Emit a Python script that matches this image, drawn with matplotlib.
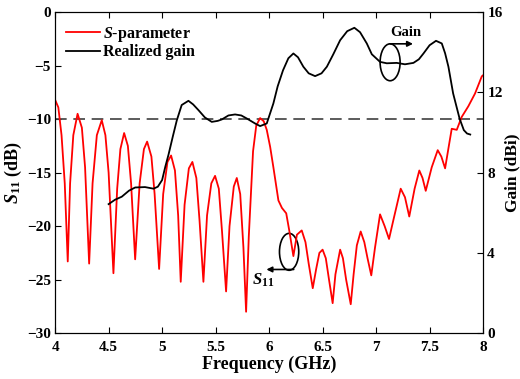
import numpy as np
import matplotlib
matplotlib.use("Agg")
import matplotlib.pyplot as plt
from matplotlib.patches import Ellipse

plt.rcParams["font.family"] = ["Liberation Serif", "DejaVu Serif"]
plt.rcParams["font.weight"] = "bold"
plt.rcParams["mathtext.fontset"] = "custom"
plt.rcParams["mathtext.rm"] = "Liberation Serif:bold"
plt.rcParams["mathtext.bf"] = "Liberation Serif:bold"
plt.rcParams["mathtext.it"] = "Liberation Serif:bold:italic"

# S11 (GHz, dB)
s11_freq = [4.00, 4.03, 4.06, 4.09, 4.118, 4.14, 4.17, 4.21, 4.25, 4.28, 4.318,
            4.35, 4.39, 4.436, 4.47, 4.50, 4.545, 4.58, 4.61, 4.645, 4.68, 4.71,
            4.748, 4.79, 4.83, 4.86, 4.90, 4.93, 4.972, 5.01, 5.05, 5.084, 5.12,
            5.15, 5.174, 5.21, 5.25, 5.283, 5.32, 5.35, 5.386, 5.42, 5.46, 5.495,
            5.53, 5.56, 5.598, 5.63, 5.67, 5.698, 5.73, 5.76, 5.785, 5.81, 5.85,
            5.88, 5.916, 5.95, 5.978, 6.01, 6.04, 6.087, 6.12, 6.16, 6.19, 6.227,
            6.26, 6.305, 6.34, 6.37, 6.408, 6.44, 6.47, 6.50, 6.53, 6.56, 6.594,
            6.62, 6.664, 6.69, 6.72, 6.763, 6.79, 6.82, 6.856, 6.89, 6.92, 6.955,
            6.99, 7.037, 7.08, 7.121, 7.16, 7.23, 7.27, 7.31, 7.36, 7.404, 7.434,
            7.464, 7.52, 7.576, 7.61, 7.645, 7.68, 7.707, 7.754, 7.80, 7.862,
            7.925, 7.988, 8.00]
s11_db = [-8.2, -8.9, -11.5, -16.0, -23.3, -16.0, -11.5, -9.5, -10.8, -14.5, -23.5,
          -16.0, -11.5, -10.1, -11.5, -15.0, -24.4, -16.5, -12.8, -11.3, -12.5, -16.0,
          -23.1, -16.0, -12.8, -12.1, -13.5, -17.0, -24.0, -17.0, -14.0, -13.4, -14.8,
          -19.0, -25.2, -18.0, -14.6, -14.0, -15.5, -19.5, -25.2, -19.0, -16.0, -15.3,
          -16.5, -20.5, -26.1, -20.0, -16.3, -15.5, -17.0, -22.0, -28.0, -21.0, -13.0,
          -10.6, -9.9, -10.2, -11.0, -12.6, -14.5, -17.6, -18.3, -18.8, -20.5, -22.8,
          -20.8, -20.4, -21.5, -23.5, -25.8, -24.0, -22.5, -22.2, -23.0, -25.0, -27.2,
          -24.5, -22.2, -23.0, -25.0, -27.3, -24.5, -21.8, -20.5, -21.5, -23.0, -24.6,
          -22.0, -18.9, -20.0, -21.2, -19.5, -16.5, -17.3, -19.1, -16.5, -14.8, -15.5,
          -16.7, -14.5, -12.9, -13.5, -14.6, -12.5, -10.9, -11.0, -9.8, -8.8,
          -7.6, -6.0, -5.9]

# realized gain (GHz, dBi)
gain_freq = [4.50, 4.56, 4.623, 4.69, 4.748, 4.84, 4.92, 4.96, 5.00, 5.03, 5.06,
             5.10, 5.137, 5.183, 5.246, 5.29, 5.339, 5.40, 5.464, 5.52, 5.558, 5.62,
             5.682, 5.74, 5.791, 5.869, 5.916, 5.978, 6.04, 6.08, 6.13, 6.18, 6.227,
             6.27, 6.32, 6.37, 6.43, 6.49, 6.54, 6.60, 6.664, 6.73, 6.797, 6.85,
             6.913, 6.96, 7.037, 7.10, 7.193, 7.27, 7.349, 7.40, 7.443, 7.50, 7.56,
             7.614, 7.645, 7.676, 7.72, 7.78, 7.82, 7.85, 7.88]
gain_dbi = [6.43, 6.65, 6.8, 7.1, 7.26, 7.28, 7.2, 7.3, 7.63, 8.3, 8.9,
            9.8, 10.6, 11.37, 11.58, 11.4, 11.12, 10.75, 10.53, 10.58, 10.65, 10.85,
            10.9, 10.85, 10.7, 10.45, 10.32, 10.45, 11.45, 12.3, 13.1, 13.7, 13.94,
            13.75, 13.28, 12.95, 12.81, 12.95, 13.28, 13.9, 14.6, 15.05, 15.22, 15.0,
            14.44, 13.9, 13.52, 13.45, 13.47, 13.4, 13.47, 13.65, 13.94, 14.35, 14.57,
            14.44, 13.95, 13.28, 11.95, 10.7, 10.12, 9.95, 9.9]

fig = plt.figure(figsize=(5.2, 3.79), dpi=100)
ax = fig.add_axes([0.106, 0.121, 0.823, 0.847])
ax2 = ax.twinx()

ax.axhline(-10, color="#404040", lw=1.2, dashes=(7, 4))
l1, = ax.plot(s11_freq, s11_db, color="red", lw=1.3)
l2, = ax2.plot(gain_freq, gain_dbi, color="black", lw=1.3)

ax.set_xlim(4, 8)
ax.set_ylim(-30, 0)
ax2.set_ylim(0, 16)
ax.set_xticks([4, 4.5, 5, 5.5, 6, 6.5, 7, 7.5, 8])
ax.set_xticklabels(["4", "4.5", "5", "5.5", "6", "6.5", "7", "7.5", "8"])
ax.set_yticks([-30, -25, -20, -15, -10, -5, 0])
ax2.set_yticks([0, 4, 8, 12, 16])

ax.tick_params(direction="in", top=True, right=False, length=4, labelsize=11)
ax.tick_params(axis="x", pad=6)
ax.tick_params(axis="y", pad=3)
ax2.tick_params(direction="in", length=4, labelsize=11, pad=3)

ax.set_xlabel("Frequency (GHz)", fontsize=13, fontweight="bold", labelpad=1)
ax.set_ylabel(r"$S_{\mathrm{11}}$ (dB)", fontsize=13, fontweight="bold", labelpad=2)
ax2.set_ylabel("Gain (dBi)", fontsize=12.5, fontweight="bold", labelpad=1)

ax.legend([l1, l2], [r"$S$-parameter", "Realized gain"], loc="upper left",
          bbox_to_anchor=(0.0, 0.995), frameon=False, fontsize=11.5,
          handlelength=2.1, handletextpad=0.2, labelspacing=0.02, borderaxespad=0.3)

# S11 marker: ellipse + arrow to the left
ax.add_patch(Ellipse((6.187, -22.4), 0.18, 3.45, fill=False, color="black", lw=1.2))
ax.annotate("", xy=(5.975, -24.05), xytext=(6.23, -24.05),
            arrowprops=dict(arrowstyle="-|>", color="black", lw=1.2, mutation_scale=8,
                            shrinkA=0, shrinkB=0))
ax.text(5.94, -25.1, r"$S_{\mathrm{11}}$", fontsize=12, ha="center", va="center")

# gain marker: ellipse + arrow to the right
ax2.add_patch(Ellipse((7.131, 13.5), 0.187, 1.84, fill=False, color="black", lw=1.2))
ax2.annotate("", xy=(7.345, 14.42), xytext=(7.131, 14.42),
             arrowprops=dict(arrowstyle="-|>", color="black", lw=1.2, mutation_scale=8,
                             shrinkA=0, shrinkB=0))
ax2.text(7.276, 15.0, "Gain", fontsize=10.5, ha="center", va="center")

fig.savefig("out.png", dpi=100)
